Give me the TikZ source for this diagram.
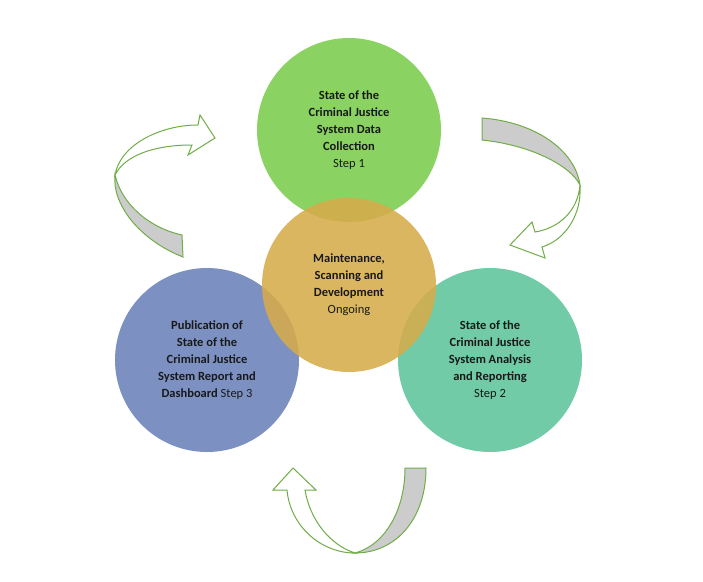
\documentclass[tikz,border=0pt]{standalone}
\usepackage{fontspec}
\setmainfont{Carlito}
\begin{document}
\begin{tikzpicture}[x=1pt,y=-1pt,
  circ/.style={circle,minimum size=184pt,inner sep=0pt,fill opacity=0.88,text opacity=1,align=center,font=\fontsize{12.5}{17}\selectfont,text=black!90},
  arr/.style={draw=green!50!black!70!lime,line width=1pt},
  ]
\useasboundingbox (0,0) rectangle (703,581);
\definecolor{cg}{RGB}{122,204,76}
\definecolor{co}{RGB}{214,172,74}
\definecolor{cb}{RGB}{106,130,186}
\definecolor{ct}{RGB}{92,196,154}
\definecolor{ag}{RGB}{112,173,71}
\tikzset{arr/.style={draw=ag,line width=1pt}}
\node[circ,fill=cg] (c1) at (349,130) {\textbf{State of the}\\\textbf{Criminal Justice}\\\textbf{System Data}\\\textbf{Collection}\\Step 1};
\node[circ,fill=cb] (c3) at (207,360) {\textbf{Publication of}\\\textbf{State of the}\\\textbf{Criminal Justice}\\\textbf{System Report and}\\\textbf{Dashboard} Step 3};
\node[circ,fill=ct] (c2) at (490,360) {\textbf{State of the}\\\textbf{Criminal Justice}\\\textbf{System Analysis}\\\textbf{and Reporting}\\Step 2};
\node[circ,fill=co,minimum size=174pt] (c0) at (349,285) {\textbf{Maintenance,}\\\textbf{Scanning and}\\\textbf{Development}\\Ongoing};
% bottom arrow
\draw[arr,fill=gray!40] (405,468)--(426,468) .. controls (426,520) and (395,553) .. (355,553) .. controls (385,545) and (405,510) .. (405,468) -- cycle;
\draw[arr,fill=white] (355,553) .. controls (320,553) and (290,525) .. (287,490) -- (273,490) -- (293,468) -- (316,490) -- (305,490) .. controls (310,520) and (330,545) .. (355,553) -- cycle;
% left arrow
\draw[arr,fill=gray!40] (182,235)--(183,257) .. controls (140,240) and (112,205) .. (115,175) .. controls (122,205) and (150,228) .. (182,235) -- cycle;
\draw[arr,fill=white] (115,175) .. controls (120,145) and (160,125) .. (198,125) -- (200,115) -- (215,138) -- (188,155) -- (192,145) .. controls (155,145) and (125,155) .. (115,175) -- cycle;
% right arrow
\draw[arr,fill=gray!40] (482,118)--(482,140) .. controls (530,145) and (570,165) .. (580,185) .. controls (575,150) and (535,122) .. (482,118) -- cycle;
\draw[arr,fill=white] (580,185) .. controls (578,210) and (560,228) .. (535,232) -- (532,222) -- (510,245) -- (545,258) -- (542,247) .. controls (565,240) and (582,215) .. (580,185) -- cycle;
\end{tikzpicture}
\end{document}
